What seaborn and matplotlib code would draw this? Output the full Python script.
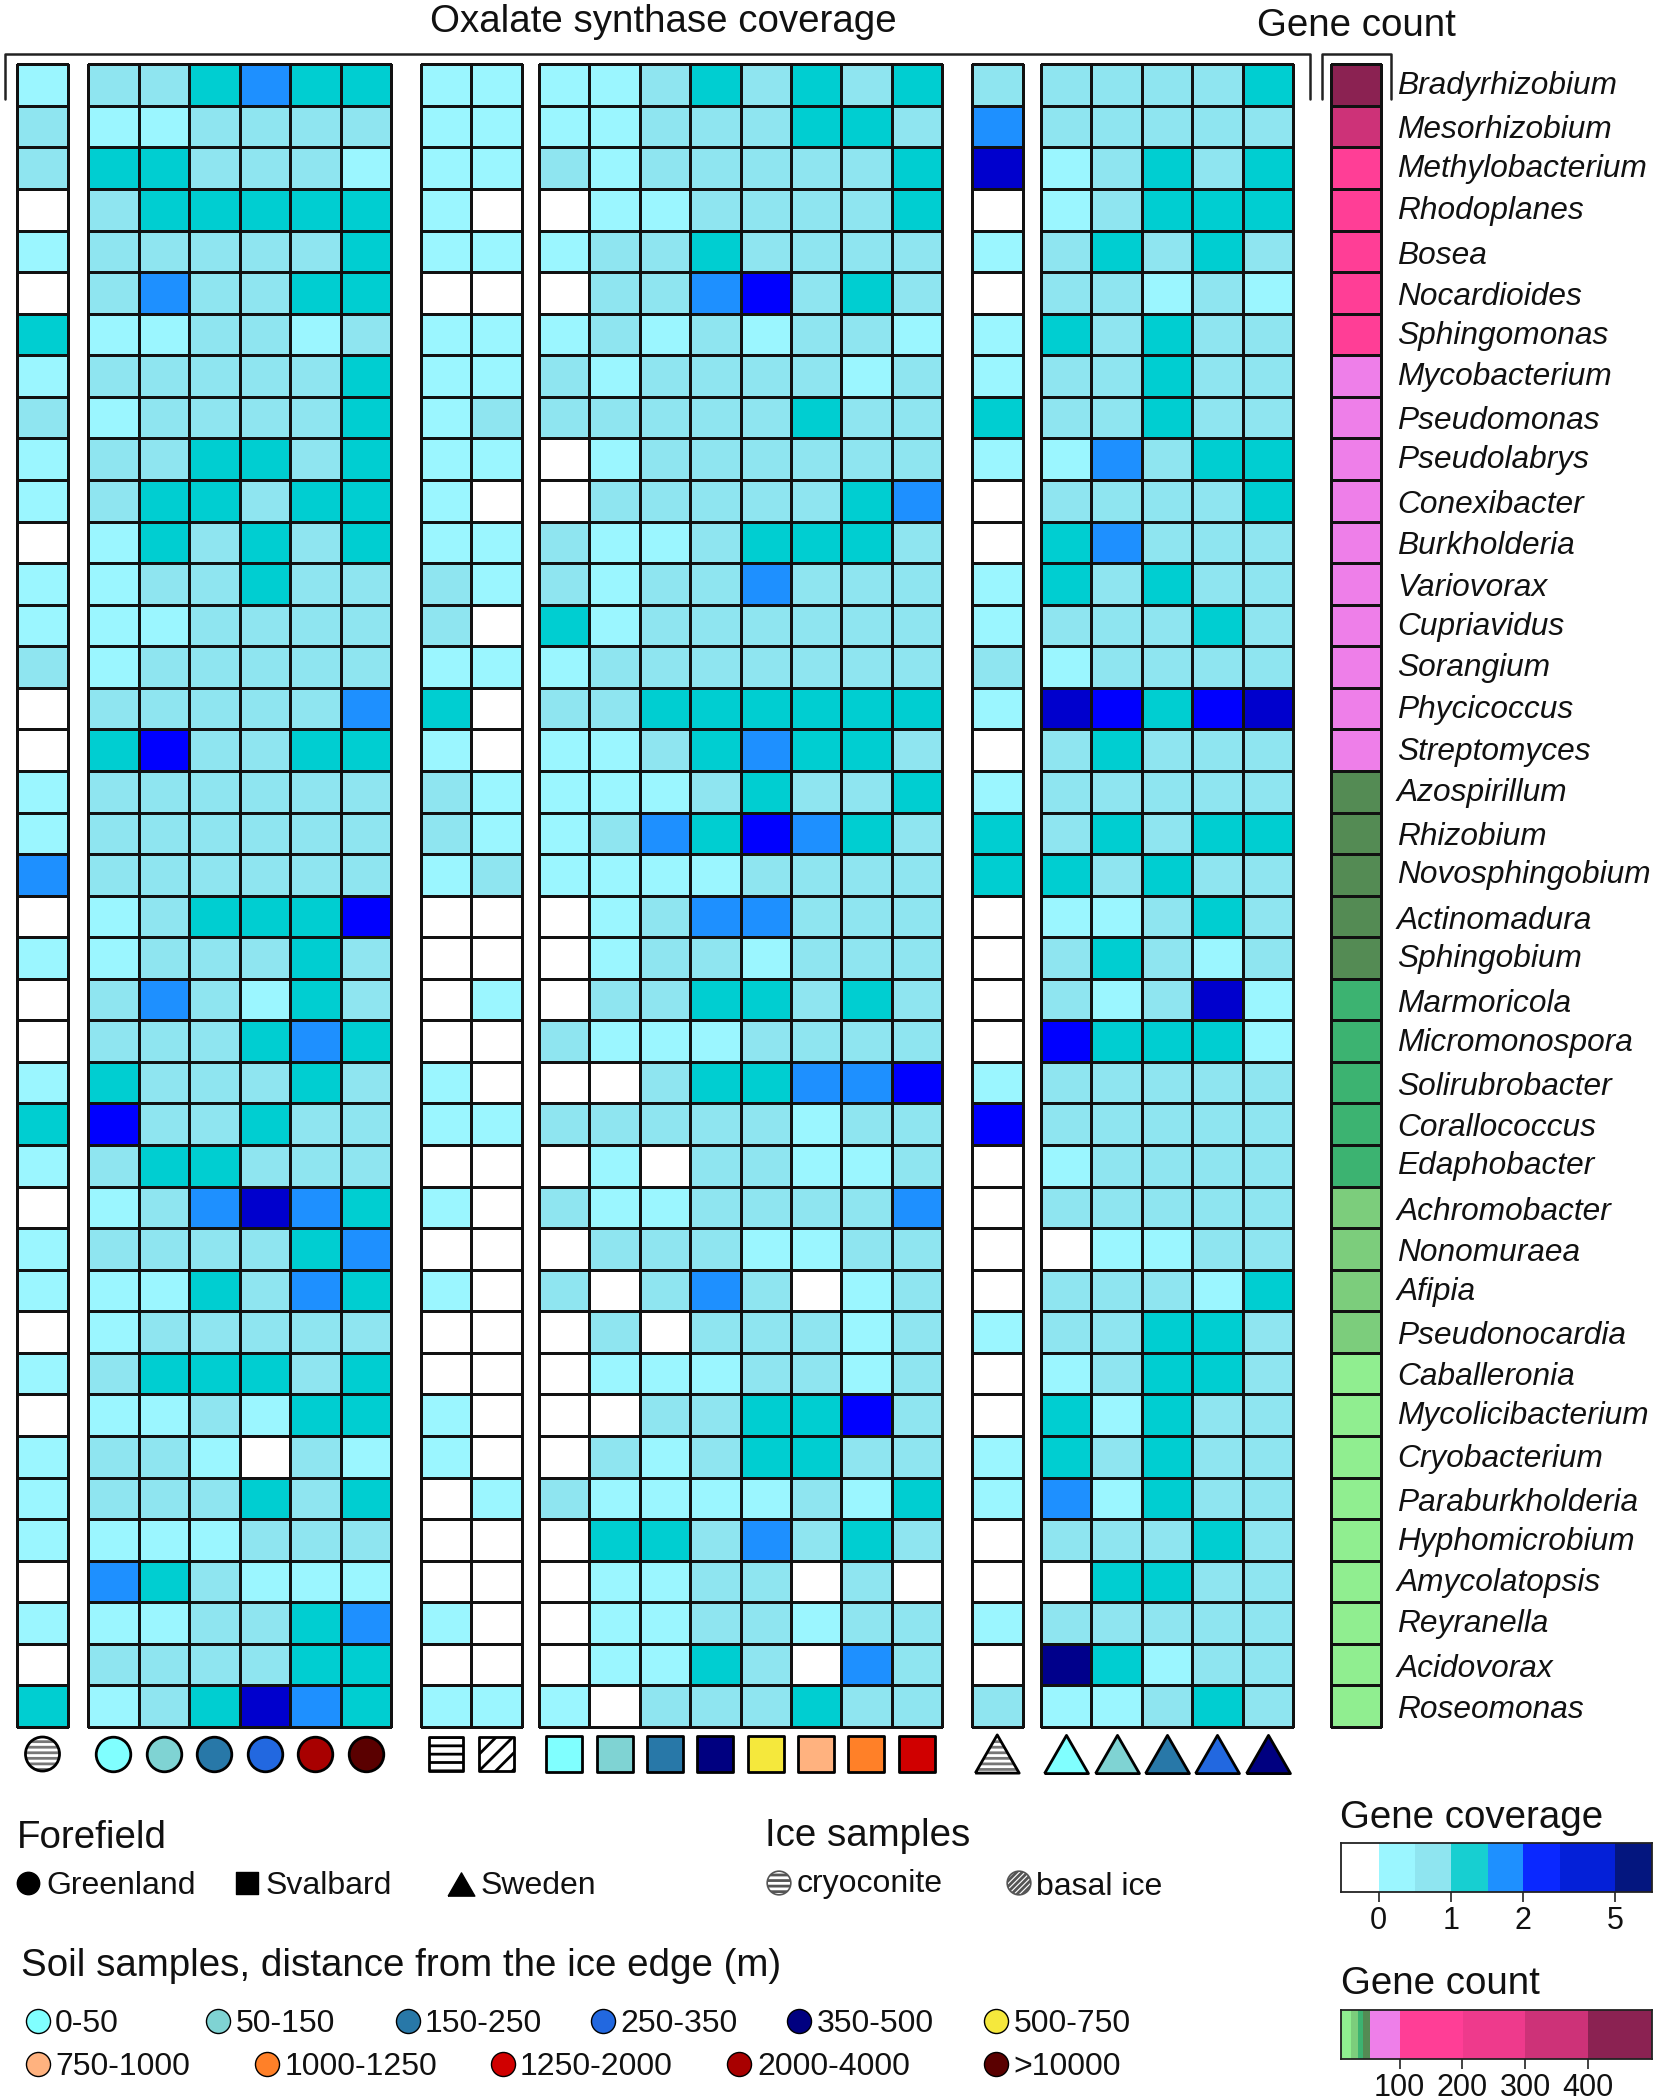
import numpy as np
import matplotlib
matplotlib.use('Agg')
import matplotlib.pyplot as plt
from matplotlib.colors import ListedColormap
import seaborn as sns

# genera, top to bottom
genera = ['Bradyrhizobium', 'Mesorhizobium', 'Methylobacterium', 'Rhodoplanes', 'Bosea', 'Nocardioides',
          'Sphingomonas', 'Mycobacterium', 'Pseudomonas', 'Pseudolabrys', 'Conexibacter', 'Burkholderia',
          'Variovorax', 'Cupriavidus', 'Sorangium', 'Phycicoccus', 'Streptomyces', 'Azospirillum', 'Rhizobium',
          'Novosphingobium', 'Actinomadura', 'Sphingobium', 'Marmoricola', 'Micromonospora', 'Solirubrobacter',
          'Corallococcus', 'Edaphobacter', 'Achromobacter', 'Nonomuraea', 'Afipia', 'Pseudonocardia',
          'Caballeronia', 'Mycolicibacterium', 'Cryobacterium', 'Paraburkholderia', 'Hyphomicrobium',
          'Amycolatopsis', 'Reyranella', 'Acidovorax', 'Roseomonas']

# coverage classes: 0 none, 1..7 light to dark
greenland_ice = [1, 2, 2, 0, 1, 0, 3, 1, 2, 1, 1, 0, 1, 1, 2, 0, 0, 1, 1, 4,
                 0, 1, 0, 0, 1, 3, 1, 0, 1, 1, 0, 1, 0, 1, 1, 1, 0, 1, 0, 3]
greenland_soil = [[2, 2, 3, 4, 3, 3], [1, 1, 2, 2, 2, 2], [3, 3, 2, 2, 2, 1], [2, 3, 3, 3, 3, 3],
                  [2, 2, 2, 2, 2, 3], [2, 4, 2, 2, 3, 3], [1, 1, 2, 2, 1, 2], [2, 2, 2, 2, 2, 3],
                  [1, 2, 2, 2, 2, 3], [2, 2, 3, 3, 2, 3], [2, 3, 3, 2, 3, 3], [1, 3, 2, 3, 2, 3],
                  [1, 2, 2, 3, 2, 2], [1, 1, 2, 2, 2, 2], [1, 2, 2, 2, 2, 2], [2, 2, 2, 2, 2, 4],
                  [3, 5, 2, 2, 3, 3], [2, 2, 2, 2, 2, 2], [2, 2, 2, 2, 2, 2], [2, 2, 2, 2, 2, 2],
                  [1, 2, 3, 3, 3, 5], [1, 2, 2, 2, 3, 2], [2, 4, 2, 1, 3, 2], [2, 2, 2, 3, 4, 3],
                  [3, 2, 2, 2, 3, 2], [5, 2, 2, 3, 2, 2], [2, 3, 3, 2, 2, 2], [1, 2, 4, 6, 4, 3],
                  [2, 2, 2, 2, 3, 4], [1, 1, 3, 2, 4, 3], [1, 2, 2, 2, 2, 2], [2, 3, 3, 3, 2, 3],
                  [1, 1, 2, 1, 3, 3], [2, 2, 1, 0, 2, 1], [2, 2, 2, 3, 2, 3], [1, 1, 1, 2, 2, 2],
                  [4, 3, 2, 1, 1, 1], [1, 1, 2, 2, 3, 4], [2, 2, 2, 2, 3, 3], [1, 2, 3, 6, 4, 3]]
svalbard_ice = [[1, 1], [1, 1], [1, 1], [1, 0], [1, 1], [0, 0], [1, 1], [1, 1], [1, 2], [1, 1],
                [1, 0], [1, 1], [2, 1], [2, 0], [1, 1], [3, 0], [1, 0], [2, 1], [2, 1], [1, 2],
                [0, 0], [0, 0], [0, 1], [0, 0], [1, 0], [1, 1], [0, 0], [1, 0], [0, 0], [1, 0],
                [0, 0], [0, 0], [1, 0], [1, 0], [0, 1], [0, 0], [0, 0], [1, 0], [0, 0], [1, 1]]
svalbard_soil = [[1, 1, 2, 3, 2, 3, 2, 3], [1, 1, 2, 2, 2, 3, 3, 2], [2, 1, 2, 2, 2, 2, 2, 3],
                 [0, 1, 1, 2, 2, 2, 2, 3], [1, 2, 2, 3, 2, 2, 2, 2], [0, 2, 2, 4, 5, 2, 3, 2],
                 [1, 2, 1, 2, 1, 2, 2, 1], [2, 1, 2, 2, 2, 2, 1, 2], [2, 2, 2, 2, 2, 3, 2, 2],
                 [0, 1, 2, 2, 2, 2, 2, 2], [0, 2, 2, 2, 2, 2, 3, 4], [2, 1, 1, 2, 3, 3, 3, 2],
                 [2, 1, 2, 2, 4, 2, 2, 2], [3, 1, 2, 2, 2, 2, 2, 2], [1, 2, 2, 2, 2, 2, 2, 2],
                 [2, 2, 3, 3, 3, 3, 3, 3], [1, 1, 2, 3, 4, 3, 3, 2], [1, 1, 1, 2, 3, 2, 2, 3],
                 [1, 2, 4, 3, 5, 4, 3, 2], [1, 1, 1, 1, 2, 2, 2, 2], [0, 1, 2, 4, 4, 2, 2, 2],
                 [0, 1, 2, 2, 1, 2, 2, 2], [0, 2, 2, 3, 3, 2, 3, 2], [2, 1, 1, 1, 2, 2, 2, 2],
                 [0, 0, 2, 3, 3, 4, 4, 5], [2, 2, 2, 2, 2, 1, 2, 2], [0, 1, 0, 2, 2, 1, 1, 2],
                 [2, 1, 1, 2, 2, 2, 2, 4], [0, 2, 2, 2, 1, 1, 2, 2], [2, 0, 2, 4, 2, 0, 1, 2],
                 [0, 2, 0, 2, 2, 2, 1, 2], [0, 1, 1, 1, 2, 2, 1, 2], [0, 0, 2, 2, 3, 3, 5, 2],
                 [0, 2, 1, 2, 3, 3, 2, 2], [2, 1, 1, 1, 1, 2, 1, 3], [0, 3, 3, 2, 4, 2, 3, 2],
                 [0, 1, 1, 2, 2, 0, 2, 0], [0, 1, 1, 2, 2, 1, 2, 2], [0, 1, 1, 3, 2, 0, 4, 2],
                 [1, 0, 2, 2, 2, 3, 2, 2]]
sweden_ice = [2, 4, 6, 0, 1, 0, 1, 1, 3, 1, 0, 0, 1, 1, 2, 1, 0, 1, 3, 3,
              0, 0, 0, 0, 1, 5, 0, 0, 0, 0, 1, 0, 0, 1, 1, 0, 0, 1, 0, 2]
sweden_soil = [[2, 2, 2, 2, 3], [2, 2, 2, 2, 2], [1, 2, 3, 2, 3], [1, 2, 3, 3, 3], [2, 3, 2, 3, 2],
               [2, 2, 1, 2, 1], [3, 2, 3, 2, 2], [2, 2, 3, 2, 2], [2, 2, 3, 2, 2], [1, 4, 2, 3, 3],
               [2, 2, 2, 2, 3], [3, 4, 2, 2, 2], [3, 2, 3, 2, 2], [2, 2, 2, 3, 2], [1, 2, 2, 2, 2],
               [6, 5, 3, 5, 6], [2, 3, 2, 2, 2], [2, 2, 2, 2, 2], [2, 3, 2, 3, 3], [3, 2, 3, 2, 2],
               [1, 1, 2, 3, 2], [2, 3, 2, 1, 2], [2, 1, 2, 6, 1], [5, 3, 3, 3, 1], [2, 2, 2, 2, 2],
               [2, 2, 2, 2, 2], [1, 2, 2, 2, 2], [2, 2, 2, 2, 2], [0, 1, 1, 2, 2], [2, 2, 2, 1, 3],
               [2, 2, 3, 3, 2], [1, 2, 3, 3, 2], [3, 1, 3, 2, 2], [3, 2, 3, 2, 2], [4, 1, 3, 2, 2],
               [2, 2, 2, 3, 2], [0, 3, 3, 2, 2], [2, 2, 2, 2, 2], [7, 3, 1, 2, 2], [1, 1, 2, 3, 2]]
gene_count = [455, 345, 170, 165, 160, 150, 140, 95, 92, 88, 85, 80, 78, 75, 70, 65, 60, 50, 49, 48,
              46, 45, 41, 40, 39, 38, 36, 32, 31, 30, 29, 22, 21, 20, 18, 16, 15, 14, 12, 10]

coverage_colors = ['#FFFFFF', '#9BF6FF', '#8FE5F0', '#00CED1', '#1E90FF', '#0000FF', '#0000CD', '#00008B']
coverage_breaks = [-0.52, 0, 0.5, 1, 1.51, 2, 2.51, 3.27, 3.78]
coverage_bar_colors = ['#FFFFFF', '#9BF6FF', '#8FE5F0', '#17CFD1', '#1E90FF', '#0A28FF', '#0420D8', '#04167F']
coverage_ticks = [0, 1, 2, 3.27]
coverage_ticklabels = ['0', '1', '2', '5']

count_breaks = [6.5, 23, 33, 42, 52, 100, 201, 300, 400, 502]
count_colors = ['#90EE90', '#7CCD7C', '#3CB371', '#548B54', '#EE7FE9', '#FF3E96', '#EE3A8C', '#CD3278', '#8B2252']
count_ticks = [100, 200, 300, 400]

distance_labels = ['0-50', '50-150', '150-250', '250-350', '350-500', '500-750',
                   '750-1000', '1000-1250', '1250-2000', '2000-4000', '>10000']
distance_colors = ['#80FFFF', '#7FD3D3', '#2878A8', '#2268E0', '#000080', '#F5E83C',
                   '#FFB27F', '#FF8028', '#D00000', '#A80000', '#5A0000']
greenland_samples = ['0-50', '50-150', '150-250', '250-350', '2000-4000', '>10000']
svalbard_samples = ['0-50', '50-150', '150-250', '350-500', '500-750', '750-1000', '1000-1250', '1250-2000']
sweden_samples = ['0-50', '50-150', '150-250', '250-350', '350-500']

W, H = 1657, 2100
sns.set_theme(style='white')
plt.rcParams['font.family'] = ['Liberation Sans', 'DejaVu Sans']
plt.rcParams['hatch.linewidth'] = 2
dist_col = dict(zip(distance_labels, distance_colors))
tri = [(-1, -0.87), (1, -0.87), (0, 0.87), (-1, -0.87)]

fig = plt.figure(figsize=(W / 100, H / 100), dpi=100, facecolor='white')


def px_axes(x0, y0, x1, y1):
    return fig.add_axes([x0 / W, 1 - y1 / H, (x1 - x0) / W, (y1 - y0) / H])


top, bottom = 64.3, 1727
cmap = ListedColormap(coverage_colors)


def heat(data, x0, x1, cm=cmap, vmax=7.5):
    arr = np.array(data)
    if arr.ndim == 1:
        arr = arr.reshape(-1, 1)
    ax = px_axes(x0, top, x1, bottom)
    sns.heatmap(arr, ax=ax, cmap=cm, vmin=-0.5, vmax=vmax, cbar=False, linewidths=0.9, linecolor='#111111',
                xticklabels=False, yticklabels=False)
    ax.collections[0].set_clip_on(False)
    return ax


row_y = 40.65
ax1 = heat(greenland_ice, 17, 68)
ax2 = heat(greenland_soil, 88, 391)
ax3 = heat(svalbard_ice, 421, 521.5)
ax4 = heat(svalbard_soil, 539, 942)
ax5 = heat(sweden_ice, 972, 1022.5)
ax6 = heat(sweden_soil, 1041, 1293)

# gene count column
count_idx = np.digitize(gene_count, count_breaks) - 1
heat(count_idx, 1330.5, 1381, ListedColormap(count_colors), 8.5)

# sample symbols under the columns
ax1.scatter([0.5], [row_y], s=600, marker='o', facecolor='white', edgecolor='#777777', hatch='---', lw=0, clip_on=False)
ax1.scatter([0.5], [row_y], s=600, marker='o', facecolor='none', edgecolor='black', lw=2, clip_on=False)
for i, lab in enumerate(greenland_samples):
    ax2.scatter([i + 0.5], [row_y], s=620, marker='o', color=dist_col[lab], edgecolor='black', lw=2, clip_on=False)
for i, h in enumerate(['--', '//']):
    ax3.scatter([i + 0.5], [row_y], s=620, marker='s', facecolor='white', edgecolor='black', hatch=h, lw=2, clip_on=False)
for i, lab in enumerate(svalbard_samples):
    ax4.scatter([i + 0.5], [row_y], s=640, marker='s', color=dist_col[lab], edgecolor='black', lw=2, clip_on=False)
ax5.scatter([0.5], [row_y], s=1000, marker=tri, facecolor='white', edgecolor='#777777', hatch='---', lw=0, clip_on=False)
ax5.scatter([0.5], [row_y], s=1000, marker=tri, facecolor='none', edgecolor='black', lw=2, clip_on=False)
for i, lab in enumerate(sweden_samples):
    ax6.scatter([i + 0.5], [row_y], s=1000, marker=tri, color=dist_col[lab], edgecolor='black', lw=2, clip_on=False)

# overlay in pixel units for text, brackets and legend
ov = fig.add_axes([0, 0, 1, 1])
ov.set_xlim(0, W)
ov.set_ylim(H, 0)
ov.axis('off')
ov.patch.set_alpha(0)

ov.plot([5, 5, 1310, 1310], [99, 53.5, 53.5, 99], color='#222222', lw=1.8)
ov.plot([1322, 1322, 1391, 1391], [99, 53.5, 53.5, 99], color='#222222', lw=1.8)


def put(x, y, s, size=27.7, **kw):
    ov.text(x, y + 3, s, fontsize=size, va='center', color='#111111', **kw)


put(430, 19, 'Oxalate synthase coverage')
put(1257, 23, 'Gene count')

label_y = [83, 127, 166, 208, 253, 294, 333, 374, 418, 457, 502, 543, 585, 624, 665, 707, 749, 790, 834, 872,
           918, 956, 1001, 1040, 1084, 1125, 1163, 1209, 1250, 1289, 1333, 1374, 1413, 1456, 1500, 1539, 1580,
           1621, 1666, 1707]
for name, y in zip(genera, label_y):
    put(1397, y, name, size=22.8, style='italic')

put(16.5, 1835, 'Forefield')
put(765, 1833, 'Ice samples')
put(21, 1963, 'Soil samples, distance from the ice edge (m)')
put(1340, 1815, 'Gene coverage')
put(1341, 1981, 'Gene count')

ov.scatter([28], [1883], s=260, marker='o', color='black')
ov.scatter([247], [1883], s=240, marker='s', color='black')
ov.scatter([461], [1884], s=370, marker=tri, color='black')
put(46, 1883, 'Greenland', size=23)
put(266, 1883, 'Svalbard', size=23)
put(481, 1883, 'Sweden', size=23)

ov.scatter([779], [1883], s=290, marker='o', facecolor='white', edgecolor='#555555', hatch='---', lw=1.2)
ov.scatter([1019], [1883], s=290, marker='o', facecolor='white', edgecolor='#555555', hatch='//////', lw=1.2)
put(797, 1881, 'cryoconite', size=23)
put(1036, 1884, 'basal ice', size=23)

legend_mark_x = [37.6, 218, 408, 603, 799, 996, 37.6, 267, 503, 739, 996]
legend_text_x = [55, 236, 425, 620, 817, 1014, 55, 285, 520, 757, 1013]
legend_y = [2021] * 6 + [2064] * 5
for lab, col, mx, tx, y in zip(distance_labels, distance_colors, legend_mark_x, legend_text_x, legend_y):
    ov.scatter([mx], [y], s=300, marker='o', color=col, edgecolor='black', lw=1)
    put(tx, y, lab, size=23)


def bar_legend(y0, y1, breaks, colors, ticks, ticklabels):
    ax = px_axes(1341, y0, 1652, y1)
    ax.barh([0] * len(colors), np.diff(breaks), left=breaks[:-1], height=1, color=colors, linewidth=0)
    ax.set_xlim(breaks[0], breaks[-1])
    ax.set_ylim(-0.5, 0.5)
    ax.set_yticks([])
    ax.set_xticks(ticks)
    ax.set_xticklabels(ticklabels, fontsize=22, color='#111111')
    ax.tick_params(axis='x', length=7, width=1.2, color='#222222', pad=3, bottom=True)
    for s in ax.spines.values():
        s.set_color('#222222')
        s.set_linewidth(1.3)
    return ax


bar_legend(1843, 1892, coverage_breaks, coverage_bar_colors, coverage_ticks, coverage_ticklabels)
bar_legend(2010, 2059, count_breaks, count_colors, count_ticks, [str(t) for t in count_ticks])

fig.savefig('out.png', dpi=100)
